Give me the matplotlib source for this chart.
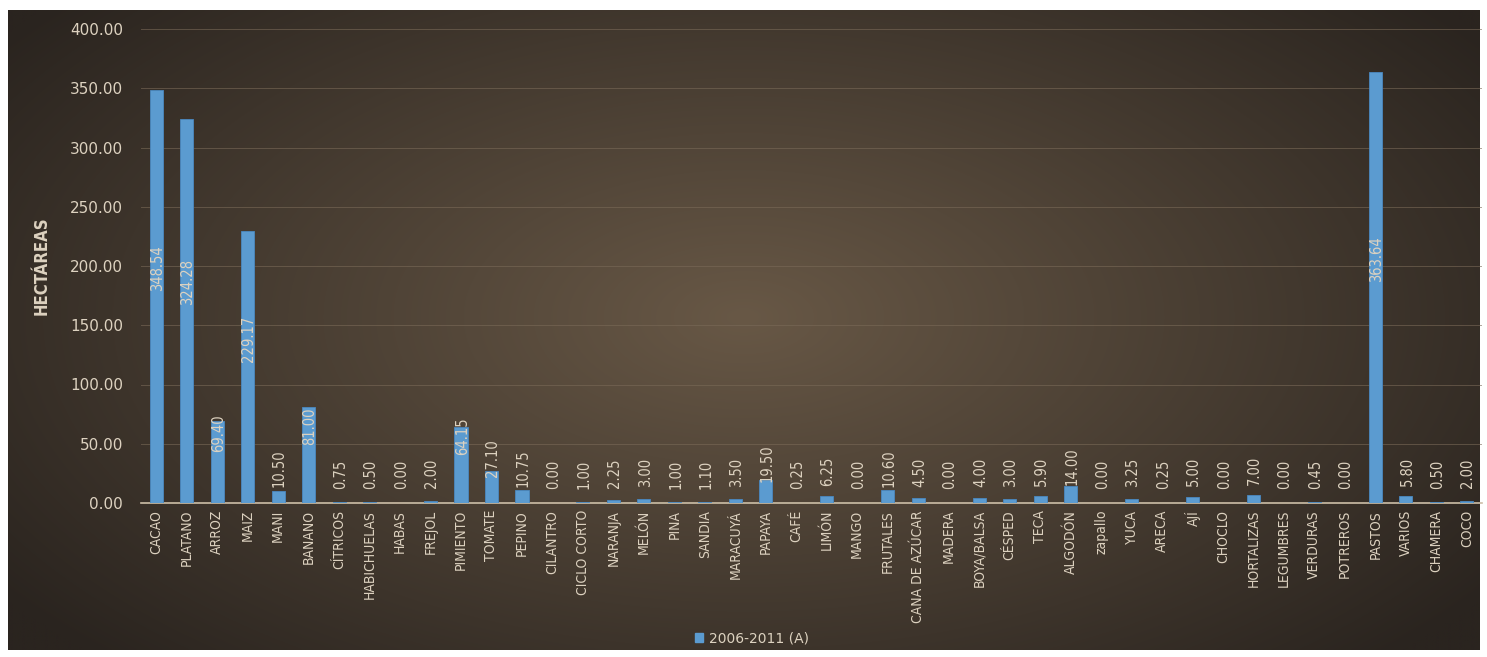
import numpy as np
import matplotlib
matplotlib.use('agg')
import matplotlib.pyplot as plt
from matplotlib.patches import Rectangle

plt.rcParams['font.family'] = ['DejaVu Sans']
plt.rcParams['font.stretch'] = 'condensed'

# crops and hectares (2006-2011)
cultivos = ['CACAO', 'PLATANO', 'ARROZ', 'MAIZ', 'MANI', 'BANANO', 'CÍTRICOS',
            'HABICHUELAS', 'HABAS', 'FREJOL', 'PIMIENTO', 'TOMATE', 'PEPINO',
            'CILANTRO', 'CICLO CORTO', 'NARANJA', 'MELÓN', 'PINA', 'SANDIA',
            'MARACUYÁ', 'PAPAYA', 'CAFÉ', 'LIMÓN', 'MANGO', 'FRUTALES',
            'CANA DE AZÚCAR', 'MADERA', 'BOYA/BALSA', 'CÉSPED', 'TECA',
            'ALGODÓN', 'zapallo', 'YUCA', 'ARECA', 'AJÍ', 'CHOCLO',
            'HORTALIZAS', 'LEGUMBRES', 'VERDURAS', 'POTREROS', 'PASTOS',
            'VARIOS', 'CHAMERA', 'COCO']
hectareas = [348.54, 324.28, 69.40, 229.17, 10.50, 81.00, 0.75,
             0.50, 0.00, 2.00, 64.15, 27.10, 10.75,
             0.00, 1.00, 2.25, 3.00, 1.00, 1.10,
             3.50, 19.50, 0.25, 6.25, 0.00, 10.60,
             4.50, 0.00, 4.00, 3.00, 5.90,
             14.00, 0.00, 3.25, 0.25, 5.00, 0.00,
             7.00, 0.00, 0.45, 0.00, 363.64,
             5.80, 0.50, 2.00]
serie = '2006-2011 (A)'
yticks = [0, 50, 100, 150, 200, 250, 300, 350, 400]

W, H = 1487, 657
fig = plt.figure(figsize=(W / 100, H / 100), dpi=100)
fig.patch.set_facecolor('white')

# dark brown radial gradient background
bg = fig.add_axes([8 / W, 1 - 650 / H, (1480 - 8) / W, (650 - 10) / H])
yy, xx = np.mgrid[0:1:300j, 0:1:600j]
r = np.sqrt(((xx - 0.5) / 0.62) ** 2 + ((yy - 0.48) / 0.75) ** 2)
r = np.clip(r, 0, 1)
inner = np.array([104, 88, 70]) / 255
outer = np.array([42, 36, 31]) / 255
img = inner[None, None, :] * (1 - r[..., None]) + outer[None, None, :] * r[..., None]
bg.imshow(img, aspect='auto', extent=[0, 1, 0, 1], interpolation='bilinear')
bg.set_axis_off()

ax = fig.add_axes([141 / W, 1 - 503 / H, (1482 - 141) / W, (503 - 29) / H])
ax.patch.set_alpha(0)

txt = '#ddd2c0'
x = np.arange(len(cultivos))
ax.bar(x, hectareas, width=0.43, color='#5b9bd0', edgecolor='#4a88c0',
       linewidth=0.6, zorder=3, label=serie)

# value labels sit a bit above the middle of each bar
for xi, v in zip(x, hectareas):
    ax.text(xi + 0.04, v / 2 + 24, '{:.2f}'.format(v), rotation=90,
            ha='center', va='center', color=txt, fontsize=10.5, zorder=4)

ax.set_xlim(-0.5, len(cultivos) - 0.5)
ax.set_ylim(0, 400)
ax.set_yticks(yticks)
ax.set_yticklabels(['{:.2f}'.format(t) for t in yticks], fontstretch='normal')
ax.yaxis.grid(True, color='#7a6a58', linewidth=0.7, alpha=0.6, zorder=0)
ax.set_xticks(x)
ax.set_xticklabels(cultivos, rotation=90)
ax.tick_params(axis='y', length=0, colors=txt, labelsize=11, pad=13)
ax.tick_params(axis='x', length=0, colors=txt, labelsize=10, pad=5)
for s in ['top', 'right', 'left']:
    ax.spines[s].set_visible(False)
ax.spines['bottom'].set_color('#cdbfa8')
ax.spines['bottom'].set_linewidth(1.2)
ax.set_ylabel('HECTÁREAS', color=txt, fontsize=12, fontweight='bold', labelpad=14)

leg = fig.legend(handles=[Rectangle((0, 0), 1, 1, color='#5b9bd0')], labels=[serie],
                 loc='center', bbox_to_anchor=(752 / W, 1 - 638 / H), frameon=False,
                 handlelength=0.6, handleheight=0.6, handletextpad=0.4,
                 prop={'size': 10, 'stretch': 'normal'})
for t in leg.get_texts():
    t.set_color(txt)

fig.savefig('out.png', dpi=100)
